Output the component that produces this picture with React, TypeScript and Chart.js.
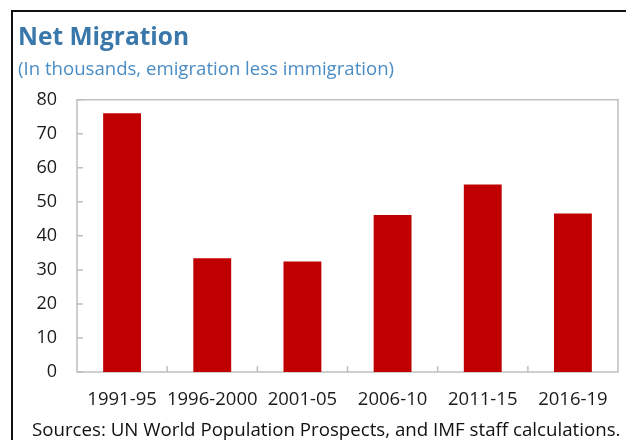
import React, { useEffect, useRef } from "react";
import { Chart, registerables } from "chart.js";

Chart.register(...registerables);

const categories = ["1991-95", "1996-2000", "2001-05", "2006-10", "2011-15", "2016-19"];
const netMigration = [76.0, 33.4, 32.5, 46.1, 55.1, 46.6];
const yTickValues = [0, 10, 20, 30, 40, 50, 60, 70, 80];
const titleText = "Net Migration";
const subtitleText = "(In thousands, emigration less immigration)";
const sourceText = "Sources: UN World Population Prospects, and IMF staff calculations.";

const FONT = "'Open Sans', 'Noto Sans', sans-serif";

const boxPlugin = {
  id: "boxAndInnerTicks",
  beforeDatasetsDraw(chart: any) {
    const { ctx, chartArea, scales } = chart;
    const { left, right, top, bottom } = chartArea;
    ctx.save();
    ctx.strokeStyle = "#bfbfbf";
    ctx.lineWidth = 1.5;
    ctx.strokeRect(left, top, right - left, bottom - top);
    ctx.beginPath();
    for (const v of yTickValues) {
      const y = scales.y.getPixelForValue(v);
      ctx.moveTo(left, y);
      ctx.lineTo(left + 6, y);
    }
    const n = categories.length;
    const step = (right - left) / n;
    for (let i = 1; i < n; i++) {
      const x = left + step * i;
      ctx.moveTo(x, bottom);
      ctx.lineTo(x, bottom - 6);
    }
    ctx.stroke();
    ctx.restore();
  },
};

export default function App() {
  const ref = useRef<HTMLCanvasElement>(null);
  useEffect(() => {
    if (!ref.current) return;
    const chart = new Chart(ref.current, {
      type: "bar",
      data: {
        labels: categories,
        datasets: [
          {
            data: netMigration,
            backgroundColor: "#c00000",
            borderWidth: 0,
            categoryPercentage: 1,
            barPercentage: 0.42,
          },
        ],
      },
      options: {
        responsive: false,
        animation: false,
        layout: { padding: { left: 18, right: 8, top: 0, bottom: 0 } },
        plugins: {
          legend: { display: false },
          tooltip: { enabled: false },
          title: {
            display: true,
            text: titleText,
            align: "start",
            color: "#3a78ab",
            font: { family: FONT, size: 24.5, weight: "bold", lineHeight: 1.2 },
            padding: { top: 23, bottom: 3 },
          },
          subtitle: {
            display: true,
            text: subtitleText,
            align: "start",
            color: "#4a8cc4",
            font: { family: FONT, size: 18.6, lineHeight: 1.2 },
            padding: { top: 3, bottom: 19 },
          },
        },
        scales: {
          x: {
            grid: { display: false, drawTicks: false },
            border: { display: false },
            ticks: {
              color: "#1a1a1a",
              font: { family: FONT, size: 18.5 },
              padding: 17,
              autoSkip: false,
              maxRotation: 0,
              minRotation: 0,
            },
            afterFit(scale: any) {
              scale.height = 68;
            },
          },
          y: {
            min: 0,
            max: 80,
            grid: { display: false, drawTicks: false },
            border: { display: false },
            ticks: {
              stepSize: 10,
              color: "#1a1a1a",
              font: { family: FONT, size: 18 },
              padding: 20,
            },
            afterFit(scale: any) {
              scale.width = 59;
            },
          },
        },
      },
      plugins: [boxPlugin],
    });
    return () => chart.destroy();
  }, []);

  return (
    <div style={{ position: "absolute", left: 0, top: 0, width: 626, height: 440, background: "#fff", overflow: "hidden" }}>
      <canvas ref={ref} width={626} height={440} style={{ position: "absolute", left: 0, top: 0 }} />
      <div
        style={{
          position: "absolute",
          left: 11,
          top: 10,
          width: 700,
          height: 600,
          borderLeft: "2px solid #111",
          borderTop: "2px solid #111",
          pointerEvents: "none",
        }}
      />
      <div
        style={{
          position: "absolute",
          left: 32,
          top: 417,
          whiteSpace: "nowrap",
          fontFamily: FONT,
          fontSize: 18.7,
          lineHeight: "24px",
          color: "#111",
        }}
      >
        {sourceText}
      </div>
    </div>
  );
}
